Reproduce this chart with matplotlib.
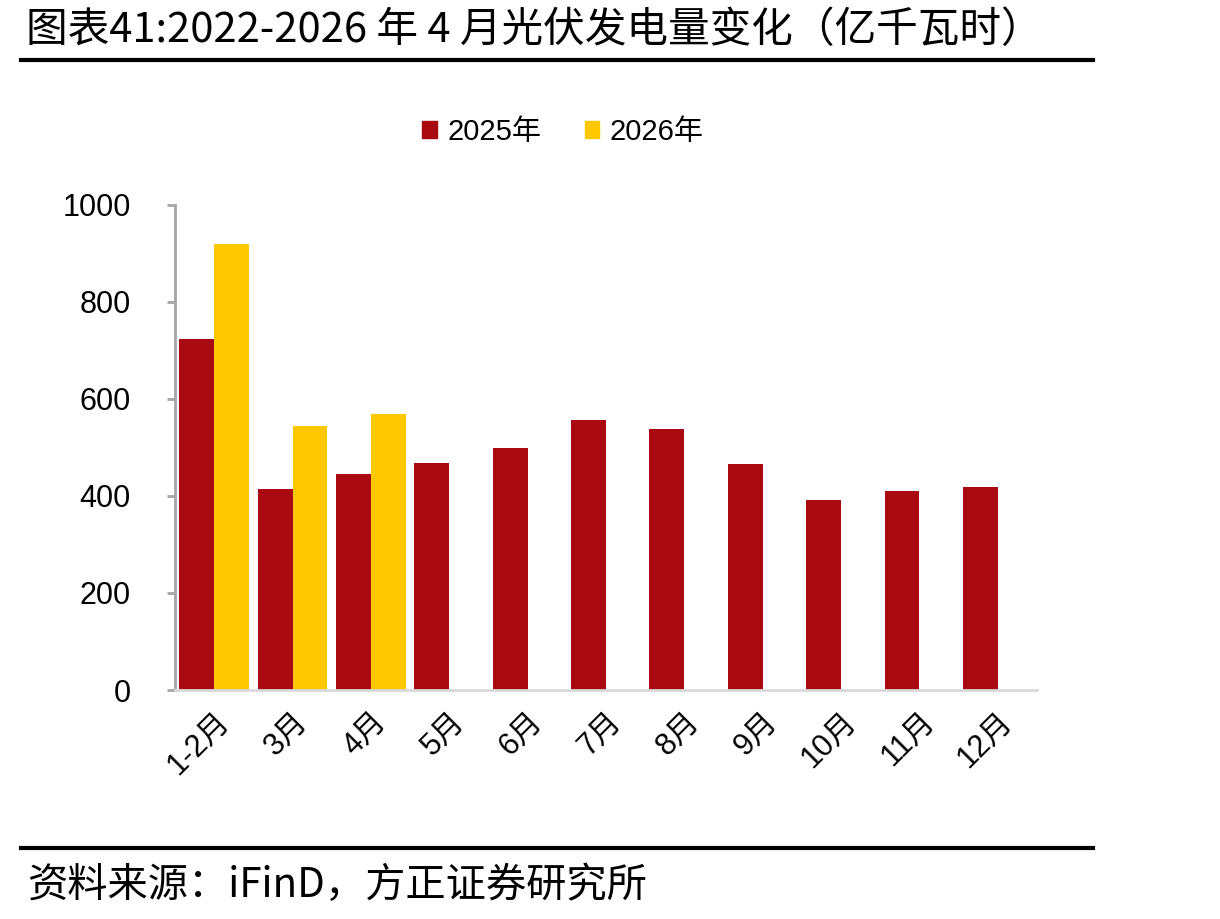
import matplotlib
matplotlib.use("Agg")
import matplotlib.pyplot as plt
import numpy as np
from matplotlib.lines import Line2D
from matplotlib.patches import Patch

categories = ["1-2月", "3月", "4月", "5月", "6月", "7月", "8月", "9月", "10月", "11月", "12月"]
series_2025 = [723, 414, 446, 468, 499, 557, 538, 465, 392, 411, 419]
series_2026 = [919, 545, 569, np.nan, np.nan, np.nan, np.nan, np.nan, np.nan, np.nan, np.nan]
series_names = ["2025年", "2026年"]
yticks = [0, 200, 400, 600, 800, 1000]

title = "图表41:2022-2026 年 4 月光伏发电量变化（亿千瓦时）"
source = "资料来源：iFinD，方正证券研究所"

RED = "#A90A12"
YEL = "#FFC800"
FONT = ["Liberation Sans", "Noto Sans CJK SC", "DejaVu Sans"]
CJK = ["Noto Sans CJK SC", "DejaVu Sans"]

plt.rcParams["font.family"] = FONT

W, H = 1220, 919
fig = plt.figure(figsize=(W / 100, H / 100), dpi=100)
ax = fig.add_axes([175 / W, 1 - 690 / H, (1037 - 175) / W, (690 - 204.7) / H])

x = np.arange(len(categories))
bw = 0.446
ax.bar(x - bw / 2, series_2025, width=bw, color=RED, label=series_names[0])
ax.bar(x + bw / 2, series_2026, width=bw, color=YEL, label=series_names[1])

ax.set_xlim(-0.5, len(categories) - 0.5)
ax.set_ylim(0, 1000)
ax.set_yticks(yticks)
ax.set_yticklabels([str(v) for v in yticks], fontsize=22)
ax.set_xticks(x)
ax.set_xticklabels(categories, rotation=45, ha="right", va="top",
                   rotation_mode="anchor", fontsize=22)

for s in ["top", "right"]:
    ax.spines[s].set_visible(False)
ax.spines["left"].set_color("#A6A6A6")
ax.spines["left"].set_linewidth(2)
ax.spines["bottom"].set_color("#D9D9D9")
ax.spines["bottom"].set_linewidth(2)
ax.tick_params(axis="y", length=6, width=2, color="#A6A6A6", pad=26)
ax.tick_params(axis="x", length=0, pad=12)

handles = [Patch(color=RED), Patch(color=YEL)]
fig.legend(handles, series_names, loc="center", bbox_to_anchor=(563 / W, 1 - 132 / H),
           ncol=2, frameon=False, fontsize=21, handlelength=0.5, handleheight=0.5,
           columnspacing=1.5, handletextpad=0.35)

fig.text(26 / W, 1 - 30 / H, title, fontsize=30, family=CJK, ha="left", va="center")
fig.text(28 / W, 1 - 885 / H, source, fontsize=29, family=CJK, ha="left", va="center",
         style="italic")

fig.add_artist(Line2D([21 / W, 1093 / W], [1 - 60 / H, 1 - 60 / H], color="black", lw=3))
fig.add_artist(Line2D([21 / W, 1093 / W], [1 - 848 / H, 1 - 848 / H], color="black", lw=3))

fig.savefig("out.png", dpi=100)
